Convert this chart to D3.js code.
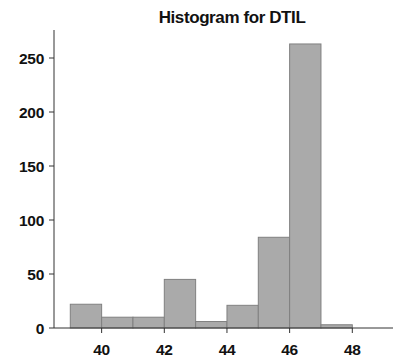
<html>
<head>
<meta charset="utf-8" />
<script src="https://d3js.org/d3.v7.min.js"></script>
<style>
  body { margin: 0; background: #fff; }
  text { font-family: "Liberation Sans", Arial, sans-serif; font-weight: bold; fill: #111; }
</style>
</head>
<body>
<div id="chart"></div>
<script>
// bins of width 1, from 39 to 48
const binStarts = [39, 40, 41, 42, 43, 44, 45, 46, 47];
const counts = [22, 10, 10, 45, 6, 21, 84, 263, 3];
const xTicks = [40, 42, 44, 46, 48];
const yTicks = [0, 50, 100, 150, 200, 250];
const title = "Histogram for DTIL";

const width = 393, height = 363;
const svg = d3.select("#chart").append("svg")
  .attr("width", width).attr("height", height);

const x = d3.scaleLinear().domain([39, 48]).range([70.3, 352.3]);
const y = d3.scaleLinear().domain([0, 250]).range([328, 58]);

svg.selectAll("rect.bar")
  .data(binStarts)
  .enter().append("rect")
  .attr("class", "bar")
  .attr("x", (d) => x(d))
  .attr("width", (d) => x(d + 1) - x(d))
  .attr("y", (d, i) => y(counts[i]))
  .attr("height", (d, i) => y(0) - y(counts[i]))
  .attr("fill", "#aaaaaa")
  .attr("stroke", "#808080")
  .attr("stroke-width", 1);

// y axis
const yAxis = svg.append("g").attr("transform", "translate(54,0)");
yAxis.append("line")
  .attr("x1", 0).attr("x2", 0)
  .attr("y1", 30).attr("y2", y(0))
  .attr("stroke", "#333");
yAxis.selectAll("line.tick").data(yTicks).enter().append("line")
  .attr("x1", -5).attr("x2", 0)
  .attr("y1", (d) => y(d)).attr("y2", (d) => y(d))
  .attr("stroke", "#333");
yAxis.selectAll("text").data(yTicks).enter().append("text")
  .attr("x", -10).attr("y", (d) => y(d))
  .attr("dy", "0.36em")
  .attr("text-anchor", "end")
  .style("font-size", "15.5px")
  .style("letter-spacing", "-0.3px")
  .text((d) => d);

// x axis
const xAxis = svg.append("g").attr("transform", "translate(0," + y(0) + ")");
xAxis.append("line")
  .attr("x1", 54).attr("x2", width)
  .attr("y1", 0).attr("y2", 0)
  .attr("stroke", "#333");
xAxis.selectAll("line.tick").data(xTicks).enter().append("line")
  .attr("x1", (d) => x(d)).attr("x2", (d) => x(d))
  .attr("y1", 0).attr("y2", 5)
  .attr("stroke", "#333");
xAxis.selectAll("text").data(xTicks).enter().append("text")
  .attr("x", (d) => x(d)).attr("y", 21)
  .attr("dy", "0.36em")
  .attr("text-anchor", "middle")
  .style("font-size", "15.5px")
  .style("letter-spacing", "-0.3px")
  .text((d) => d);

svg.append("text")
  .attr("x", 232).attr("y", 23)
  .attr("text-anchor", "middle")
  .style("font-size", "17px")
  .style("letter-spacing", "-0.4px")
  .text(title);
</script>
</body>
</html>
